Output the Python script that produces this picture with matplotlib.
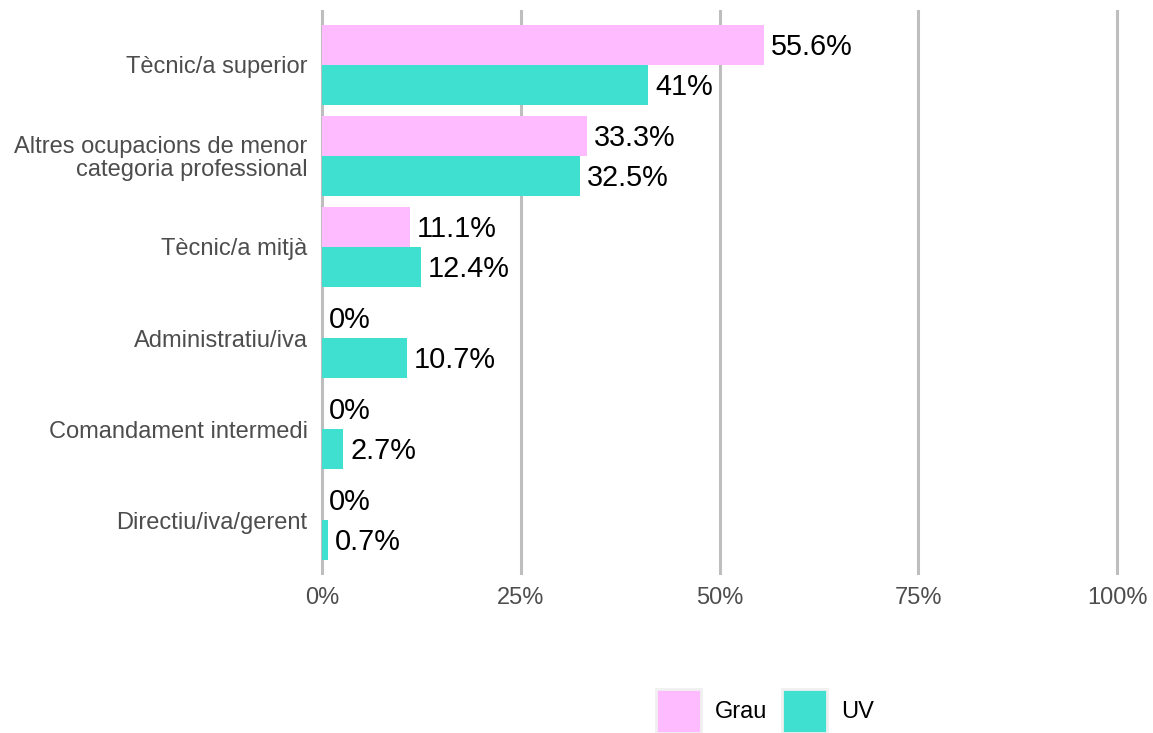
import matplotlib.pyplot as plt
from matplotlib.patches import Patch

plt.rcParams["font.family"] = ["Liberation Sans", "DejaVu Sans"]

categories = [
    "Tècnic/a superior",
    "Altres ocupacions de menor\ncategoria professional",
    "Tècnic/a mitjà",
    "Administratiu/iva",
    "Comandament intermedi",
    "Directiu/iva/gerent",
]
grau = [55.6, 33.3, 11.1, 0, 0, 0]
uv = [41, 32.5, 12.4, 10.7, 2.7, 0.7]
series = ["Grau", "UV"]
colors = {"Grau": "#FFBBFF", "UV": "#40E0D0"}
xticks = [0, 25, 50, 75, 100]

W, H = 1153, 733
fig = plt.figure(figsize=(W / 100, H / 100), dpi=100)
# panel: x data -1..101 spans px 314..1125, y 0.4..6.6 spans px 10..575
ax = fig.add_axes([314 / W, (H - 575) / H, (1125 - 314) / W, 565 / H])
ax.set_xlim(-1, 101)
ax.set_ylim(0.4, 6.6)

n = len(categories)
ypos = [n - i for i in range(n)]
bh = 0.44

for x in xticks:
    ax.axvline(x, color="#BEBEBE", lw=2.2, zorder=0)

for y, g, u in zip(ypos, grau, uv):
    ax.barh(y + bh / 2, g, height=bh, color=colors["Grau"], zorder=2)
    ax.barh(y - bh / 2, u, height=bh, color=colors["UV"], zorder=2)
    for val, yy in ((g, y + bh / 2), (u, y - bh / 2)):
        ax.annotate(f"{val:g}%", (val, yy), xytext=(5, -1.5), textcoords="offset points",
                    ha="left", va="center", fontsize=20.8, color="black", zorder=3)

ax.set_yticks(ypos)
ax.set_yticklabels(categories, fontsize=17, color="#4D4D4D", linespacing=1.05)
ax.set_xticks(xticks)
ax.set_xticklabels([f"{x}%" for x in xticks], fontsize=17, color="#4D4D4D")
ax.tick_params(axis="x", length=0, pad=9)
ax.tick_params(axis="y", length=0, pad=4.5)
for s in ax.spines.values():
    s.set_visible(False)

handles = [Patch(facecolor=colors[s], edgecolor="#F0F0F0", linewidth=2, label=s) for s in series]
fig.legend(handles=handles, loc="center", bbox_to_anchor=(765 / W, (H - 711) / H),
           ncol=2, frameon=False, fontsize=17, handlelength=1.9, handleheight=2.45,
           handletextpad=0.6, columnspacing=0.6, borderaxespad=0)

fig.savefig("out.png", dpi=100)
